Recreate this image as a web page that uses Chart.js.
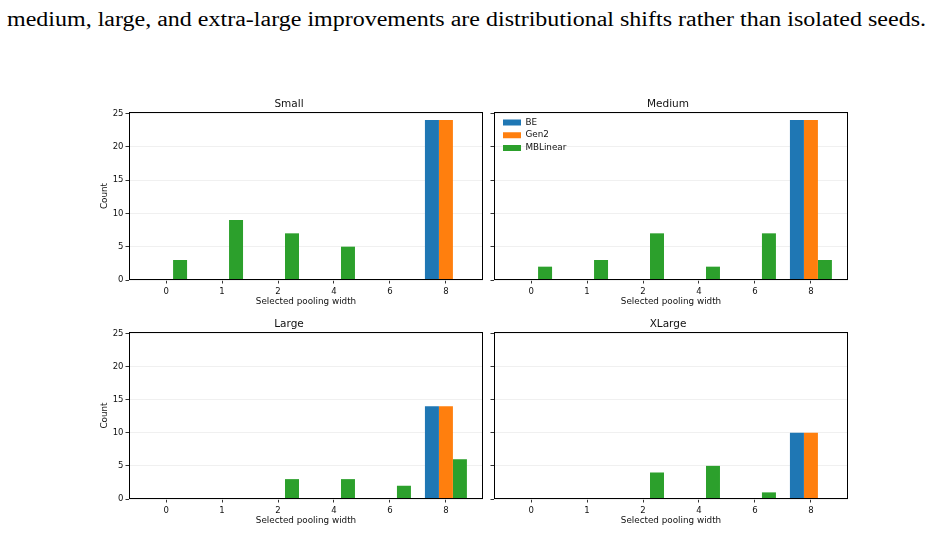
<!DOCTYPE html>
<html>
<head>
<meta charset="utf-8">
<script src="https://cdn.jsdelivr.net/npm/chart.js@4.4.1/dist/chart.umd.min.js"></script>
<style>
  body { margin: 0; background: #fff; width: 932px; height: 533px; overflow: hidden; position: relative; }
  #caption { position: absolute; left: 7px; top: 9px; font-family: 'Liberation Serif', 'DejaVu Serif', serif;
             font-size: 20px; line-height: 20px; white-space: nowrap; color: #000; transform-origin: 0 0; }
  canvas { position: absolute; }
</style>
</head>
<body>
<div id="caption">medium, large, and extra-large improvements are distributional shifts rather than isolated seeds.</div>
<canvas id="c0"></canvas>
<canvas id="c1"></canvas>
<canvas id="c2"></canvas>
<canvas id="c3"></canvas>
<script>
// pooling widths on the x axis (equally spaced categories)
var widths = ['0', '1', '2', '4', '6', '8'];
var yTicks = [0, 5, 10, 15, 20, 25];
var seriesNames = ['BE', 'Gen2', 'MBLinear'];
var seriesColors = ['#1f77b4', '#ff7f0e', '#2ca02c'];
var panelTitles = ['Small', 'Medium', 'Large', 'XLarge'];

// counts per width
var smallBE    = [0, 0, 0, 0, 0, 24];
var smallGen2  = [0, 0, 0, 0, 0, 24];
var smallMB    = [3, 9, 7, 5, 0, 0];

var mediumBE   = [0, 0, 0, 0, 0, 24];
var mediumGen2 = [0, 0, 0, 0, 0, 24];
var mediumMB   = [2, 3, 7, 2, 7, 3];

var largeBE    = [0, 0, 0, 0, 0, 14];
var largeGen2  = [0, 0, 0, 0, 0, 14];
var largeMB    = [0, 0, 3, 3, 2, 6];

var xlargeBE   = [0, 0, 0, 0, 0, 10];
var xlargeGen2 = [0, 0, 0, 0, 0, 10];
var xlargeMB   = [0, 0, 4, 5, 1, 0];

var FONT = 'DejaVu Sans';
Chart.defaults.font.family = FONT;
Chart.defaults.color = '#111';

// fit caption to the page width
(function(){
  var cap = document.getElementById('caption');
  var w = cap.getBoundingClientRect().width;
  cap.style.transform = 'scaleX(' + (919 / w) + ')';
})();

// matplotlib-like box around the axes
var framePlugin = {
  id: 'frame',
  afterDatasetsDraw: function(chart){
    var a = chart.chartArea, ctx = chart.ctx;
    ctx.save();
    ctx.strokeStyle = '#000';
    ctx.lineWidth = 1;
    ctx.strokeRect(Math.round(a.left) + 0.5, Math.round(a.top) + 0.5,
                   Math.round(a.right - a.left) - 1, Math.round(a.bottom - a.top) - 1);
    ctx.restore();
  }
};

// put the legend in the upper left corner of the axes
var legendPlace = {
  id: 'legendPlace',
  afterLayout: function(chart){
    var lg = chart.legend;
    if (!lg || !chart.options.plugins.legend.display) return;
    var a = chart.chartArea;
    var w = lg.width, h = lg.height;
    lg.left = a.left + 5; lg.top = a.top + 2;
    lg.right = lg.left + w; lg.bottom = lg.top + h;
  }
};

function toXY(arr){
  return arr.map(function(v, i){ return {x: i, y: v}; });
}

function makePanel(id, pos, title, be, gen2, mb, showY, showLegend){
  var yw = showY ? 34 : 6;
  var titleH = 18, xh = 30, padR = 3;
  var cv = document.getElementById(id);
  var cw = yw + pos.w + padR, ch = titleH + pos.h + xh;
  cv.width = cw; cv.height = ch;
  cv.style.width = cw + 'px'; cv.style.height = ch + 'px';
  cv.style.left = (pos.left - yw) + 'px';
  cv.style.top = (pos.top - titleH) + 'px';

  var series = [be, gen2, mb];
  var datasets = series.map(function(s, k){
    return { label: seriesNames[k], data: toXY(s), backgroundColor: seriesColors[k], borderWidth: 0 };
  });

  return new Chart(cv, {
    type: 'bar',
    data: { datasets: datasets },
    options: {
      responsive: false,
      animation: false,
      layout: { padding: { left: 0, right: padR, top: 0, bottom: 0 } },
      datasets: { bar: { categoryPercentage: 0.75, barPercentage: 1 } },
      plugins: {
        title: { display: true, text: title, color: '#111', font: { size: 10.5, weight: 'normal' },
                 padding: { top: 3.5, bottom: 1.9 } },
        legend: { display: showLegend, position: 'chartArea', align: 'start',
                  labels: { boxWidth: 18, boxHeight: 6, padding: 4, color: '#111', font: { size: 8.8 } } },
        tooltip: { enabled: false }
      },
      scales: {
        x: {
          type: 'linear', min: -0.6625, max: 5.6625, offset: false,
          afterBuildTicks: function(s){ s.ticks = widths.map(function(w, i){ return {value: i}; }); },
          grid: { display: true, offset: false, drawOnChartArea: false, drawTicks: true,
                  tickLength: 3.5, tickColor: '#000', tickWidth: 0.8 },
          border: { display: false },
          ticks: { callback: function(v){ return widths[v]; }, font: { size: 8.5 }, padding: 3,
                   maxRotation: 0, autoSkip: false },
          title: { display: true, text: 'Selected pooling width', font: { size: 8.8 },
                   padding: { top: 0, bottom: 3.2 } },
          afterFit: function(s){ s.height = xh; }
        },
        y: {
          min: 0, max: 25.2,
          afterBuildTicks: function(s){ s.ticks = yTicks.map(function(v){ return {value: v}; }); },
          grid: { color: '#ececec', lineWidth: 0.8, drawTicks: true, tickLength: 3.5,
                  tickColor: '#000', tickWidth: 0.8 },
          border: { display: false },
          ticks: { font: { size: 8.5 }, padding: 2,
                   callback: function(v){ return showY ? String(v) : ''; } },
          title: { display: showY, text: 'Count', font: { size: 8.8 }, padding: { top: 4, bottom: 0 } },
          afterFit: function(s){ s.width = yw; }
        }
      }
    },
    plugins: [framePlugin, legendPlace]
  });
}

makePanel('c0', {left: 129, top: 112, w: 354, h: 168}, panelTitles[0], smallBE, smallGen2, smallMB, true, false);
makePanel('c1', {left: 494, top: 112, w: 354, h: 168}, panelTitles[1], mediumBE, mediumGen2, mediumMB, false, true);
makePanel('c2', {left: 129, top: 332, w: 354, h: 167}, panelTitles[2], largeBE, largeGen2, largeMB, true, false);
makePanel('c3', {left: 494, top: 332, w: 354, h: 167}, panelTitles[3], xlargeBE, xlargeGen2, xlargeMB, false, false);
</script>
</body>
</html>
